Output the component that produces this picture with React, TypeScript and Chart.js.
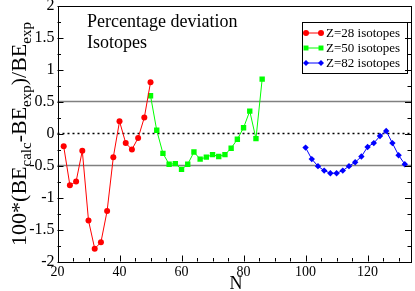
import React, { useEffect, useRef } from 'react';
import { Chart, registerables } from 'chart.js';

Chart.register(...registerables);

// ---- data ----
const nZ28 = [22, 24, 26, 28, 30, 32, 34, 36, 38, 40, 42, 44, 46, 48, 50];
const devZ28 = [-0.2, -0.81, -0.75, -0.27, -1.36, -1.8, -1.7, -1.21, -0.37, 0.19, -0.15, -0.25, -0.07, 0.25, 0.8];

const nZ50 = [50, 52, 54, 56, 58, 60, 62, 64, 66, 68, 70, 72, 74, 76, 78, 80, 82, 84, 86];
const devZ50 = [0.59, 0.05, -0.31, -0.48, -0.47, -0.56, -0.48, -0.29, -0.4, -0.37, -0.33, -0.36, -0.33, -0.23, -0.09, 0.09, 0.35, -0.08, 0.85];

const nZ82 = [100, 102, 104, 106, 108, 110, 112, 114, 116, 118, 120, 122, 124, 126, 128, 130, 132];
const devZ82 = [-0.22, -0.4, -0.51, -0.58, -0.62, -0.62, -0.58, -0.51, -0.45, -0.36, -0.21, -0.15, -0.04, 0.04, -0.15, -0.34, -0.48];

const seriesLabels = ['Z=28 isotopes', 'Z=50 isotopes', 'Z=82 isotopes'];
const seriesColors = ['#ff0000', '#00ff00', '#0000ff'];
const seriesMarkers = ['circle', 'rect', 'rectRot'];

const xTickValues = [20, 40, 60, 80, 100, 120];
const xTickLabels = ['20', '40', '60', '80', '100', '120'];
const yTickValues = [-2, -1.5, -1, -0.5, 0, 0.5, 1, 1.5, 2];
const yTickLabels = ['-2', '-1.5', '-1', '-0.5', '0', '0.5', '1', '1.5', '2'];

const titleLines = ['Percentage deviation', 'Isotopes'];
const xAxisTitle = 'N';
const yAxisTitleParts = [
  { t: '100*(BE', sub: false },
  { t: 'calc', sub: true },
  { t: '-BE', sub: false },
  { t: 'exp', sub: true },
  { t: ')/BE', sub: false },
  { t: 'exp', sub: true },
];
const refLinesSolid = [0.5, -0.5];
const refLineDotted = 0;

const SERIF = "'Liberation Serif', 'Times New Roman', serif";

function drawMarker(ctx: CanvasRenderingContext2D, style: string, x: number, y: number, r: number, color: string) {
  ctx.save();
  ctx.fillStyle = color;
  ctx.beginPath();
  if (style === 'circle') {
    ctx.arc(x, y, r, 0, Math.PI * 2);
  } else if (style === 'rect') {
    const s = Math.SQRT1_2 * r;
    ctx.rect(x - s, y - s, 2 * s, 2 * s);
  } else {
    ctx.moveTo(x, y - r);
    ctx.lineTo(x + r, y);
    ctx.lineTo(x, y + r);
    ctx.lineTo(x - r, y);
    ctx.closePath();
  }
  ctx.fill();
  ctx.restore();
}

const decorPlugin = {
  id: 'decor',
  beforeDatasetsDraw(chart: any) {
    const { ctx, chartArea } = chart;
    const ys = chart.scales.y;
    ctx.save();
    ctx.strokeStyle = '#808080';
    ctx.lineWidth = 1.5;
    refLinesSolid.forEach((v) => {
      const py = ys.getPixelForValue(v);
      ctx.beginPath();
      ctx.moveTo(chartArea.left, py);
      ctx.lineTo(chartArea.right, py);
      ctx.stroke();
    });
    ctx.strokeStyle = '#000';
    ctx.setLineDash([2, 3]);
    const pz = ys.getPixelForValue(refLineDotted);
    ctx.beginPath();
    ctx.moveTo(chartArea.left, pz);
    ctx.lineTo(chartArea.right, pz);
    ctx.stroke();
    ctx.restore();
  },
  afterDraw(chart: any) {
    const { ctx, chartArea } = chart;
    const xs = chart.scales.x;
    const ys = chart.scales.y;
    const { left, right, top, bottom } = chartArea;
    ctx.save();
    // frame
    ctx.strokeStyle = '#000';
    ctx.lineWidth = 1;
    ctx.strokeRect(Math.round(left) + 0.5, Math.round(top) + 0.5, Math.round(right - left) - 1, Math.round(bottom - top));
    // x ticks (bottom, inward)
    ctx.beginPath();
    for (let v = 20; v <= 134; v += 5) {
      const px = Math.round(xs.getPixelForValue(v)) + 0.5;
      const len = v % 20 === 0 ? 6 : 3.5;
      ctx.moveTo(px, bottom);
      ctx.lineTo(px, bottom - len);
    }
    // y ticks (left and right, inward)
    for (let i = -8; i <= 8; i++) {
      const v = i * 0.25;
      const py = Math.round(ys.getPixelForValue(v)) + 0.5;
      const len = i % 2 === 0 ? 6 : 3.5;
      ctx.moveTo(left, py);
      ctx.lineTo(left + len, py);
      ctx.moveTo(right, py);
      ctx.lineTo(right - len, py);
    }
    ctx.stroke();

    ctx.fillStyle = '#000';
    // in-plot title
    ctx.font = `18px ${SERIF}`;
    ctx.textAlign = 'left';
    ctx.textBaseline = 'alphabetic';
    ctx.fillText(titleLines[0], 87, 27);
    ctx.fillText(titleLines[1], 87, 48);

    // x axis title
    ctx.font = `18px ${SERIF}`;
    ctx.textAlign = 'center';
    ctx.fillText(xAxisTitle, 236, 289);

    // y axis title with subscripts
    ctx.save();
    ctx.translate(26, 134);
    ctx.rotate(-Math.PI / 2);
    ctx.textAlign = 'left';
    const mainFont = `22px ${SERIF}`;
    const subFont = `15px ${SERIF}`;
    let total = 0;
    yAxisTitleParts.forEach((p) => {
      ctx.font = p.sub ? subFont : mainFont;
      total += ctx.measureText(p.t).width;
    });
    let cx = -total / 2;
    yAxisTitleParts.forEach((p) => {
      ctx.font = p.sub ? subFont : mainFont;
      ctx.fillText(p.t, cx, p.sub ? 5 : 0);
      cx += ctx.measureText(p.t).width;
    });
    ctx.restore();

    // legend
    ctx.lineWidth = 1;
    ctx.strokeStyle = '#000';
    ctx.strokeRect(302.5, 22.5, 105, 51);
    ctx.font = `13px ${SERIF}`;
    ctx.textAlign = 'left';
    ctx.textBaseline = 'middle';
    seriesLabels.forEach((lab, i) => {
      const y = 33 + i * 15;
      ctx.strokeStyle = seriesColors[i];
      ctx.beginPath();
      ctx.moveTo(306, y);
      ctx.lineTo(321, y);
      ctx.stroke();
      const r = i === 0 ? 3 : i === 1 ? 3.5 : 3;
      drawMarker(ctx, seriesMarkers[i], 306, y, r, seriesColors[i]);
      drawMarker(ctx, seriesMarkers[i], 321, y, r, seriesColors[i]);
      ctx.fillStyle = '#000';
      ctx.fillText(lab, 326, y + 0.5);
    });
    ctx.restore();
  },
};

function makeData(ns: number[], vs: number[]) {
  return ns.map((n, i) => ({ x: n, y: vs[i] }));
}

export default function App() {
  const canvasRef = useRef<HTMLCanvasElement | null>(null);

  useEffect(() => {
    if (!canvasRef.current) return;
    const chart = new Chart(canvasRef.current, {
      type: 'line',
      data: {
        datasets: [
          {
            label: seriesLabels[0],
            data: makeData(nZ28, devZ28),
            borderColor: seriesColors[0],
            backgroundColor: seriesColors[0],
            borderWidth: 1,
            pointStyle: 'circle',
            pointRadius: 3,
            pointBorderWidth: 0,
          },
          {
            label: seriesLabels[1],
            data: makeData(nZ50, devZ50),
            borderColor: seriesColors[1],
            backgroundColor: seriesColors[1],
            borderWidth: 1,
            pointStyle: 'rect',
            pointRadius: 3.8,
            pointBorderWidth: 0,
          },
          {
            label: seriesLabels[2],
            data: makeData(nZ82, devZ82),
            borderColor: seriesColors[2],
            backgroundColor: seriesColors[2],
            borderWidth: 1,
            pointStyle: 'rectRot',
            pointRadius: 3.2,
            pointBorderWidth: 0,
          },
        ],
      },
      options: {
        animation: false,
        responsive: false,
        devicePixelRatio: 1,
        layout: { padding: { left: 0, right: 1.5, top: 5.5, bottom: 0 } },
        plugins: {
          legend: { display: false },
          tooltip: { enabled: false },
          title: { display: false },
        },
        scales: {
          x: {
            type: 'linear',
            min: 20,
            max: 134,
            grid: { display: false, drawTicks: false },
            border: { display: false },
            afterBuildTicks: (scale: any) => {
              scale.ticks = xTickValues.map((v) => ({ value: v }));
            },
            afterFit: (scale: any) => {
              scale.height = 29.5;
              scale.paddingLeft = 0;
              scale.paddingRight = 0;
            },
            ticks: {
              color: '#000',
              font: { family: SERIF, size: 14 },
              padding: 2,
              maxRotation: 0,
              autoSkip: false,
              callback: (v: any) => {
                const i = xTickValues.indexOf(Number(v));
                return i >= 0 ? xTickLabels[i] : '';
              },
            },
          },
          y: {
            type: 'linear',
            min: -2,
            max: 2,
            grid: { display: false, drawTicks: false },
            border: { display: false },
            afterBuildTicks: (scale: any) => {
              scale.ticks = yTickValues.map((v) => ({ value: v }));
            },
            afterFit: (scale: any) => {
              scale.width = 57.5;
              scale.paddingTop = 0;
              scale.paddingBottom = 0;
            },
            ticks: {
              color: '#000',
              font: { family: SERIF, size: 16 },
              padding: 3,
              autoSkip: false,
              callback: (v: any) => {
                const i = yTickValues.indexOf(Number(v));
                return i >= 0 ? yTickLabels[i] : '';
              },
            },
          },
        },
      },
      plugins: [decorPlugin],
    } as any);
    return () => chart.destroy();
  }, []);

  return (
    <div style={{ position: 'fixed', left: 0, top: 0, width: 415, height: 291, background: '#fff' }}>
      <canvas ref={canvasRef} width={415} height={291} style={{ display: 'block' }} />
    </div>
  );
}
